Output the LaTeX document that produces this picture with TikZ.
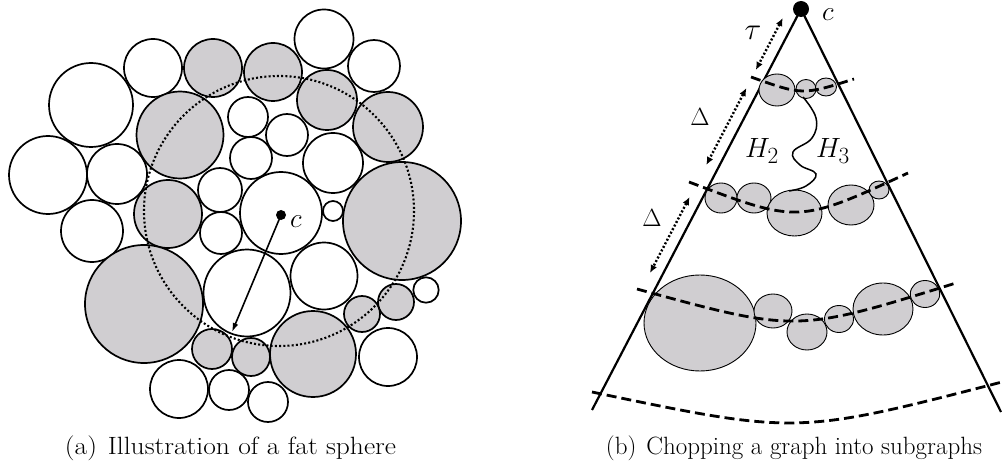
\documentclass[tikz,border=0pt]{standalone}
\usepackage{amsmath}
\usepackage{fontspec}
\setmainfont{Latin Modern Roman}
\usepackage{tikz}
\usetikzlibrary{positioning,arrows.meta}
\definecolor{ballgray}{RGB}{208,206,209}
\tikzset{
  disk/.style={draw=black, line width=1.7pt, fill=#1},
  disk/.default={white},
  blob/.style={draw=black, line width=0.9pt, fill=ballgray},
  side/.style={line width=2.2pt},
  cut/.style={line width=2.8pt, dash pattern=on 10pt off 5pt},
  gap/.style={{Latex[length=8pt,width=7pt]}-{Latex[length=8pt,width=7pt]}, line width=2.4pt, dash pattern=on 2pt off 2pt},
  lbl/.style={font=\fontsize{24.88}{28}\selectfont, inner sep=0pt},
  subcap/.style={font=\fontsize{25}{30}\selectfont, inner sep=0pt, anchor=base}
}

\begin{document}
\begin{tikzpicture}[x=1pt, y=-1pt]
  \useasboundingbox (0,0) rectangle (1002,468);

  % (a) packing of balls around c
  \foreach \x/\y/\r in {153/68/29, 324/39/29.5, 374/66/26, 91/105/42, 248/117/20,
      287/135/21, 48/175/39, 117/174/30, 220/190/22, 251/158/21, 333/163/30,
      281/213/41, 333/211/10, 92/231/31, 221/233/21, 247/293/43.5, 324/276/33.5,
      426/290/12.7, 388/357/29, 179/389/29, 229/390/20, 268/402/20}
    \draw[disk] (\x,\y) circle[radius=\r];
  \foreach \x/\y/\r in {213/68/29, 273/72/29, 180/135/43.5, 327/100/30, 388/127/35,
      168/214/34, 402/221/59, 144/304/59, 362/314/18, 396/302/18, 313/354/43,
      212/349/20, 251/357/19}
    \draw[disk=ballgray] (\x,\y) circle[radius=\r];
  \draw[line width=2.1pt, dash pattern=on 2pt off 2.2pt] (279,211) circle[radius=135];

  \node[circle, fill=black, minimum size=10pt, inner sep=0pt] (ca) at (281,215) {};
  \node[lbl, scale=1.1] (cla) at (296,222) {$c$};
  \coordinate (rim) at (232,332);
  \draw[-{Latex[length=9pt,width=6pt]}, line width=1.6pt] (ca.center) -- (rim);

  \node[subcap] (capa) at (230.5,454) {\scalebox{1.1}[1]{(a)\hspace{0.4em}Illustration of a fat sphere}};

  % (b) cone cut into slabs
  \node[circle, fill=black, minimum size=16pt, inner sep=0pt] (apex) at (801,9) {};
  \node[lbl, scale=1.1] (cb) at (828,15) {$c$};
  \coordinate (lfoot) at (592,410);
  \coordinate (rfoot) at (1001,412);
  \draw[side] (apex.center) -- (lfoot);
  \draw[side] (apex.center) -- (rfoot);

  \foreach \x/\y/\rx/\ry in {777/90/18/16, 806/89/10/9.5, 826/87/10.5/9,
      721/198/16/15, 754/198/17/15, 794.5/213/27.5/23, 851/205/23/20, 879/190/10/9,
      700/323/56/48, 773/311/19/17, 807/332/20/18, 839/319/14.5/13.5,
      883/309/30/26, 925/294/14.7/13.5}
    \draw[blob] (\x,\y) ellipse[x radius=\rx, y radius=\ry];

  \draw[cut] (751,77) .. controls (802.5,95.3) .. (854,79);
  \draw[cut] (689,182) .. controls (798.5,223.5) .. (908,173);
  \draw[cut] (637,289) .. controls (796.5,332.7) .. (956,283);
  \draw[cut] (592,392) .. controls (797,434.8) .. (1002,382);

  \draw[line width=1.5pt] plot[smooth, tension=0.7] coordinates
    {(803,97) (816,118) (812,138) (793,152) (800,165) (816,174) (806,186) (789,191)};
  \node[lbl, scale=1.12] (h2) at (762,151) {$H_2$};
  \node[lbl, scale=1.12] (h3) at (833,151) {$H_3$};

  \coordinate (t1) at (782.8,18);
  \coordinate (t2) at (755.8,70);
  \coordinate (d1) at (746.4,88);
  \coordinate (d2) at (706.3,165);
  \coordinate (e1) at (689.6,197);
  \coordinate (e2) at (650,273);
  \draw[gap] (t1) -- (t2);
  \draw[gap] (d1) -- (d2);
  \draw[gap] (e1) -- (e2);
  \node[lbl, scale=1.25] (tau) at (753,33) {$\tau$};
  \node[lbl] (del1) at (700,117) {$\Delta$};
  \node[lbl] (del2) at (652,218) {$\Delta$};

  \node[subcap] (capb) at (794,454) {(b)\hspace{0.4em}Chopping a graph into subgraphs};
\end{tikzpicture}
\end{document}
